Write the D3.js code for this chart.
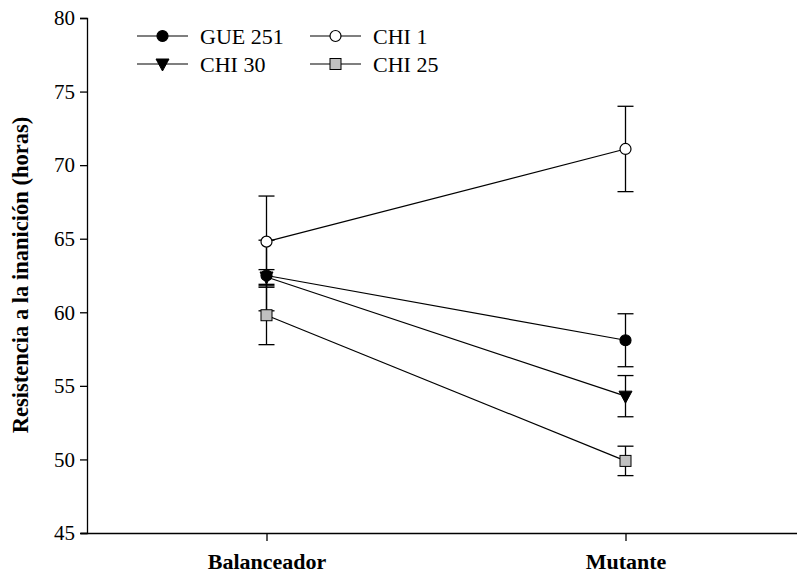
<!DOCTYPE html>
<html>
<head>
<meta charset="utf-8">
<script src="https://cdn.jsdelivr.net/npm/d3@7"></script>
<style>
  body { margin: 0; background: #fff; }
</style>
</head>
<body>
<div id="chart"></div>
<script>
const width = 797, height = 576;
const FONT = "'Liberation Serif', 'Times New Roman', 'DejaVu Serif', serif";

// data
const groups = ["Balanceador", "Mutante"];
const seriesNames = ["GUE 251", "CHI 1", "CHI 30", "CHI 25"];
const gue251 = [62.5, 58.1], gue251Err = [2.4, 1.8];
const chi1 = [64.8, 71.1], chi1Err = [3.1, 2.9];
const chi30 = [62.4, 54.3], chi30Err = [0.5, 1.4];
const chi25 = [59.8, 49.9], chi25Err = [2.0, 1.0];
const yTicks = [45, 50, 55, 60, 65, 70, 75, 80];

const series = [
    { name: seriesNames[0], values: gue251, err: gue251Err, shape: "circle", fill: "#000" },
    { name: seriesNames[1], values: chi1, err: chi1Err, shape: "circle", fill: "#fff" },
    { name: seriesNames[2], values: chi30, err: chi30Err, shape: "triangle", fill: "#000" },
    { name: seriesNames[3], values: chi25, err: chi25Err, shape: "square", fill: "#c0c0c0" }
];

const svg = d3.select("#chart").append("svg")
    .attr("width", width)
    .attr("height", height)
    .attr("font-family", FONT);

const x = d3.scaleLinear().domain([0.5, 2.5]).range([87, 805]);
const y = d3.scaleLinear().domain([45, 80]).range([533, 18]);

// y axis
svg.append("g")
    .attr("transform", "translate(87,0)")
    .call(d3.axisLeft(y).tickValues(yTicks).tickSize(7).tickPadding(5))
    .attr("font-family", FONT)
    .call(g => g.select(".domain").attr("stroke-width", 1.3))
    .call(g => g.selectAll(".tick line").attr("stroke-width", 1.3))
    .call(g => g.selectAll(".tick text")
        .attr("font-size", 21).attr("fill", "#000"));

// x axis
svg.append("g")
    .attr("transform", "translate(0,533)")
    .call(d3.axisBottom(x).tickValues([1, 2]).tickSize(8).tickSizeOuter(0)
        .tickFormat((d, i) => groups[i]).tickPadding(12))
    .attr("font-family", FONT)
    .call(g => g.select(".domain").attr("stroke-width", 1.3).attr("d", "M81,0.5H805"))
    .call(g => g.selectAll(".tick line").attr("stroke-width", 1.3))
    .call(g => g.selectAll(".tick text")
        .attr("font-size", 22).attr("font-weight", "bold").attr("fill", "#000"));

// y title
svg.append("text")
    .attr("transform", "translate(28,275) rotate(-90)")
    .attr("text-anchor", "middle")
    .attr("font-size", 22.5)
    .attr("font-weight", "bold")
    .text("Resistencia a la inanición (horas)");

function drawMarker(g, shape, fill) {
    if (shape === "circle") {
        g.append("circle").attr("r", 5.5)
            .attr("fill", fill).attr("stroke", "#000").attr("stroke-width", 1.2);
    } else if (shape === "triangle") {
        g.append("path").attr("d", "M-6.5,-5L6.5,-5L0,7Z")
            .attr("fill", fill).attr("stroke", "#000").attr("stroke-width", 1);
    } else {
        g.append("rect").attr("x", -5.5).attr("y", -5.5).attr("width", 11).attr("height", 11)
            .attr("fill", fill).attr("stroke", "#000").attr("stroke-width", 1);
    }
}

const line = d3.line().x((d, i) => x(i + 1)).y(d => y(d));

// error bars first
series.forEach(s => {
    s.values.forEach((v, i) => {
        const cx = x(i + 1);
        const eb = svg.append("g").attr("stroke", "#000").attr("stroke-width", 1.3);
        eb.append("line").attr("x1", cx).attr("x2", cx)
            .attr("y1", y(v - s.err[i])).attr("y2", y(v + s.err[i]));
        [v - s.err[i], v + s.err[i]].forEach(e => {
            eb.append("line").attr("x1", cx - 8).attr("x2", cx + 8)
                .attr("y1", y(e)).attr("y2", y(e));
        });
    });
});

// lines and markers
series.forEach(s => {
    svg.append("path").datum(s.values)
        .attr("d", line)
        .attr("fill", "none")
        .attr("stroke", "#000")
        .attr("stroke-width", 1.2);
});
series.forEach(s => {
    s.values.forEach((v, i) => {
        const g = svg.append("g").attr("transform", `translate(${x(i + 1)},${y(v)})`);
        drawMarker(g, s.shape, s.fill);
    });
});

// legend
const legendPos = [[137, 36], [310, 36], [137, 64], [310, 64]];
series.forEach((s, i) => {
    const [lx, ly] = legendPos[i];
    const lg = svg.append("g").attr("transform", `translate(${lx},${ly})`);
    lg.append("line").attr("x1", 0).attr("x2", 51)
        .attr("stroke", "#000").attr("stroke-width", 1.2);
    const m = lg.append("g").attr("transform", "translate(25.5,0)");
    drawMarker(m, s.shape, s.fill);
    lg.append("text").attr("x", 63).attr("y", 8)
        .attr("font-size", 22)
        .text(s.name);
});
</script>
</body>
</html>
